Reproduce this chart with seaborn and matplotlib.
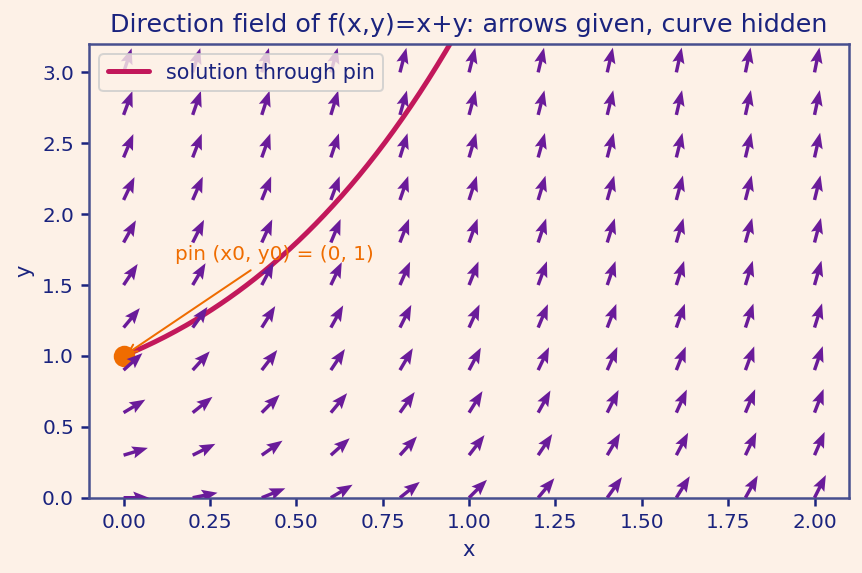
import numpy as np
import pandas as pd
import matplotlib
matplotlib.use("Agg")
import matplotlib.pyplot as plt
import seaborn as sns

# ===============================
# Data
# ===============================
x_grid = [0.0, 0.2, 0.4, 0.6, 0.8, 1.0, 1.2, 1.4, 1.6, 1.8, 2.0]
y_grid = [0.0, 0.3, 0.6, 0.9, 1.2, 1.5, 1.8, 2.1, 2.4, 2.7, 3.0]
x0, y0 = 0.0, 1.0
x_ticks = [0.0, 0.25, 0.5, 0.75, 1.0, 1.25, 1.5, 1.75, 2.0]
y_ticks = [0.0, 0.5, 1.0, 1.5, 2.0, 2.5, 3.0]


def f(x, y):
    return x + y


# exact solution of y' = x + y through (x0, y0) = (0, 1)
def solution(x):
    return 2 * np.exp(x) - x - 1


# ===============================
# Style
# ===============================
bg = "#fdf1e7"
navy = "#1a237e"
sns.set_theme(style="white", rc={
    "figure.facecolor": bg,
    "axes.facecolor": bg,
    "axes.edgecolor": "#474f8f",
    "axes.labelcolor": navy,
    "xtick.color": navy,
    "ytick.color": navy,
    "text.color": navy,
    "xtick.bottom": True,
    "ytick.left": True,
})
plt.rcParams['font.family'] = ['DejaVu Sans']

fig = plt.figure(figsize=(862 / 144, 573 / 144), dpi=144)
ax = fig.add_axes([0.1033, 0.1314, 0.8817, 0.7918])

# direction field
X, Y = np.meshgrid(x_grid, y_grid)
S = f(X, Y)
U = 1 / np.sqrt(1 + S ** 2)
V = S / np.sqrt(1 + S ** 2)
ax.quiver(X, Y, U, V, color="#6a1b9a", pivot="tail", angles="uv",
          scale=30, width=0.0045, headwidth=3.6, headlength=4.6, headaxislength=4.0,
          zorder=4)

# solution curve
xs = np.linspace(x0, 2.0, 400)
curve = pd.DataFrame({"x": xs, "y": solution(xs)})
sns.lineplot(data=curve, x="x", y="y", ax=ax, color="#c2185b", linewidth=2.5,
             label="solution through pin", zorder=2)

# pin
ax.scatter([x0], [y0], s=95, color="#ef6c00", zorder=3)
ax.annotate("pin (x0, y0) = (0, 1)", xy=(x0, y0), xytext=(0.15, 1.68),
            color="#ef6c00", fontsize=10,
            arrowprops=dict(arrowstyle="->", color="#ef6c00", lw=1), zorder=5)

ax.set_xlim(-0.1, 2.1)
ax.set_ylim(0, 3.2)
ax.set_xticks(x_ticks)
ax.set_yticks(y_ticks)
ax.tick_params(labelsize=10, length=4)
ax.set_xlabel("x", fontsize=10.5)
ax.set_ylabel("y", fontsize=10.5)
ax.set_title("Direction field of f(x,y)=x+y: arrows given, curve hidden", fontsize=12.7)
leg = ax.legend(loc="upper left", fontsize=10.4, framealpha=0.8)
for t in leg.get_texts():
    t.set_color(navy)

fig.savefig("out.png", dpi=144, facecolor=bg)
